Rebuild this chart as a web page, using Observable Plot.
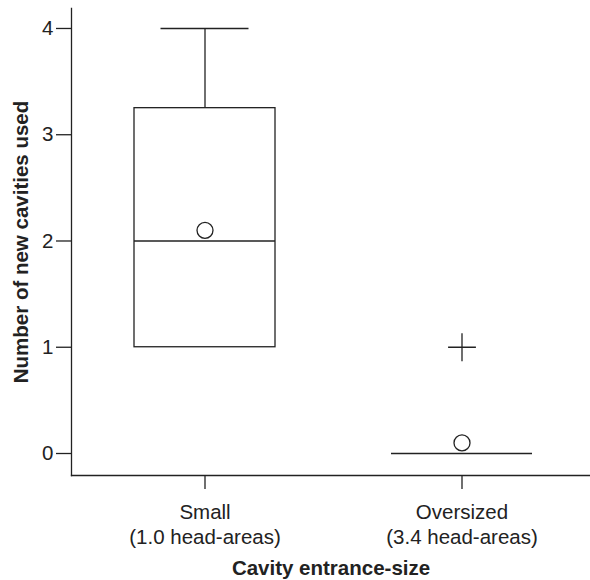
<!DOCTYPE html>
<html>
<head>
<meta charset="utf-8">
<script src="https://cdn.jsdelivr.net/npm/d3@7"></script>
<script src="https://cdn.jsdelivr.net/npm/@observablehq/plot@0.6"></script>
<style>
  html, body { margin: 0; padding: 0; background: #fff; }
  g[aria-label="y-axis label"] text, g[aria-label="x-axis label"] text { font-weight: bold; }
</style>
</head>
<body>
<div id="chart"></div>
<script>
const categories = ["Small", "Oversized"];
const subtitles = ["(1.0 head-areas)", "(3.4 head-areas)"];
const q1 = [1, 0];
const median = [2, 0];
const q3 = [3.25, 0];
const whiskerLow = [1, 0];
const whiskerHigh = [4, 0];
const means = [2.1, 0.1];
const outlierCats = ["Oversized"];
const outlierValues = [1];
const yTicks = [0, 1, 2, 3, 4];

const boxes = categories.map((c, i) => ({
  cat: c, sub: subtitles[i], q1: q1[i], med: median[i], q3: q3[i],
  lo: whiskerLow[i], hi: whiskerHigh[i], mean: means[i]
}));
const upper = boxes.filter(d => d.hi > d.q3);
const lower = boxes.filter(d => d.lo < d.q1);
const outliers = outlierCats.map((c, i) => ({cat: c, value: outlierValues[i]}));
const subOf = new Map(categories.map((c, i) => [c, subtitles[i]]));

const ink = "#222";
const sw = 1.3;

const chart = Plot.plot({
  width: 590,
  height: 580,
  marginLeft: 71,
  marginRight: 0,
  marginTop: 8,
  marginBottom: 105,
  style: {fontSize: "20.5px", fontFamily: "'Liberation Sans', Arial, sans-serif", color: ink, background: "#fff"},
  x: {type: "band", domain: categories, paddingInner: 0.451, paddingOuter: 0.235, align: 0.517},
  y: {domain: [-0.207, 4.188]},
  marks: [
    Plot.frame({anchor: "left", stroke: ink, strokeWidth: sw}),
    Plot.frame({anchor: "bottom", stroke: ink, strokeWidth: sw}),
    Plot.axisY({ticks: yTicks, tickSize: 15, tickPadding: 3, tickFormat: d => String(d),
      label: "Number of new cavities used", labelAnchor: "center", labelOffset: 58, labelArrow: "none",
      stroke: ink, strokeWidth: sw, fill: ink}),
    Plot.axisX({tickSize: 14, tickPadding: 12, lineHeight: 1.2,
      tickFormat: d => d + "\n" + subOf.get(d),
      label: "Cavity entrance-size", labelAnchor: "center", labelOffset: 99, labelArrow: "none",
      stroke: ink, strokeWidth: sw, fill: ink}),
    Plot.ruleX(upper, {x: "cat", y1: "q3", y2: "hi", stroke: ink, strokeWidth: sw}),
    Plot.ruleX(lower, {x: "cat", y1: "lo", y2: "q1", stroke: ink, strokeWidth: sw}),
    Plot.tickY(upper, {x: "cat", y: "hi", insetLeft: 26.5, insetRight: 26.5, stroke: ink, strokeWidth: sw}),
    Plot.tickY(lower, {x: "cat", y: "lo", insetLeft: 26.5, insetRight: 26.5, stroke: ink, strokeWidth: sw}),
    Plot.barY(boxes, {x: "cat", y1: "q1", y2: "q3", fill: "white", stroke: ink, strokeWidth: sw}),
    Plot.tickY(boxes, {x: "cat", y: "med", stroke: ink, strokeWidth: sw}),
    Plot.dot(boxes, {x: "cat", y: "mean", r: 8, fill: "white", stroke: ink, strokeWidth: sw}),
    Plot.dot(outliers, {x: "cat", y: "value", symbol: "plus", r: 9, stroke: ink, strokeWidth: sw})
  ]
});
document.getElementById("chart").appendChild(chart);
</script>
</body>
</html>
